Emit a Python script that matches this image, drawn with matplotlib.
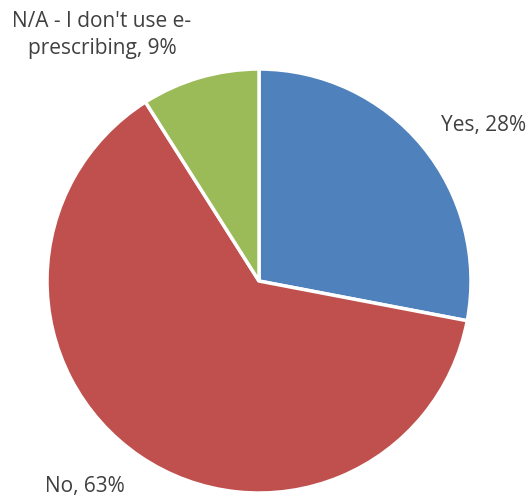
import matplotlib
matplotlib.use('Agg')
import matplotlib.pyplot as plt

labels = ["Yes, 28%", "No, 63%", "N/A - I don't use e-\nprescribing, 9%"]
values = [28, 63, 9]
colors = ['#4F81BD', '#C0504D', '#9BBB59']

plt.rcParams['font.family'] = ['Open Sans', 'DejaVu Sans']

fig = plt.figure(figsize=(5.30, 5.02), dpi=100)
ax = fig.add_axes([0.0887, 0.0159, 0.8, 0.8446])
ax.pie(values, colors=colors, startangle=90, counterclock=False,
       wedgeprops=dict(edgecolor='white', linewidth=2.5))
ax.set_xlim(-1, 1)
ax.set_ylim(-1, 1)
ax.set_aspect('equal')

# label positions (figure fraction)
fig.text(484 / 530, 1 - 125 / 502, labels[0], ha='center', va='center', fontsize=15, color='#404040')
fig.text(85 / 530, 1 - 487 / 502, labels[1], ha='center', va='center', fontsize=15, color='#404040')
fig.text(102 / 530, 1 - 35 / 502, labels[2], ha='center', va='center', fontsize=15, color='#404040',
         linespacing=1.4)

fig.savefig('out.png', dpi=100)
